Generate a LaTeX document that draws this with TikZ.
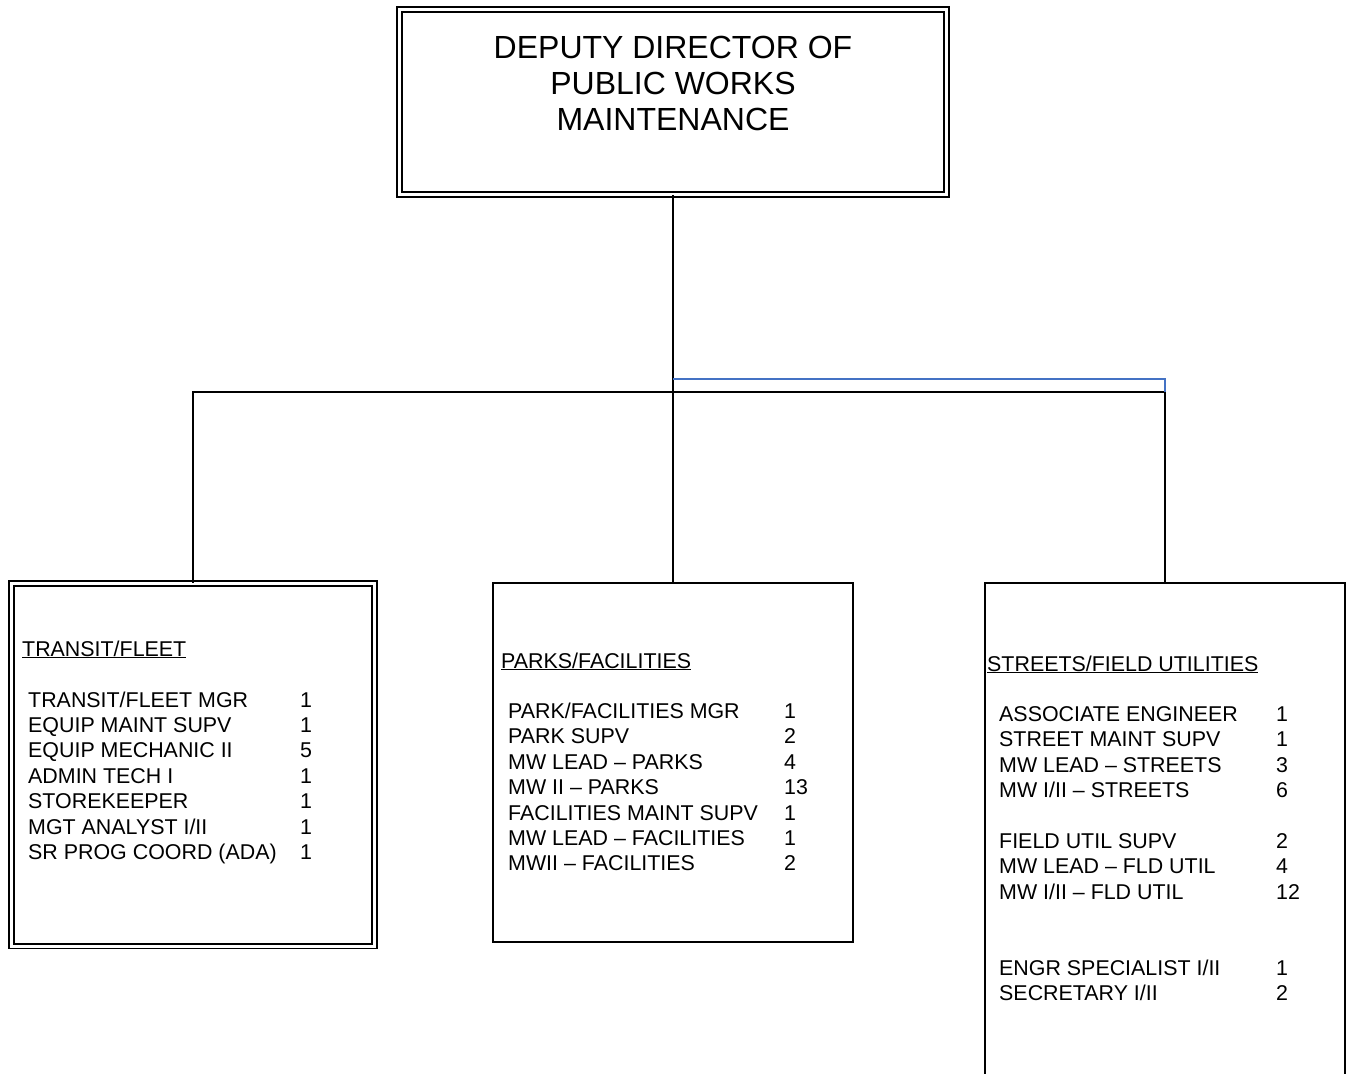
\documentclass[tikz,border=0pt]{standalone}
\usepackage{fontspec}
\setmainfont{Liberation Sans}
\begin{document}
\begin{tikzpicture}[x=1pt,y=-1pt,
  conn/.style={draw=black, line width=1.6pt},
  blueconn/.style={draw={rgb,255:red,68;green,114;blue,196}, line width=1.3pt},
  box/.style={draw=black, line width=1.6pt, inner sep=0pt, fill=white},
  dbox/.style={box, double, double distance=3pt, line width=1.6pt},
  item/.style={anchor=base west, inner sep=0pt, font=\fontsize{21.4}{25}\selectfont},
  head/.style={item},
  title/.style={anchor=base, inner sep=0pt, font=\fontsize{32}{36}\selectfont}]
\useasboundingbox (0,0) rectangle (1351,1073);
\fill[white] (0,0) rectangle (1351,1073);

% boxes
\node[dbox, minimum width=547pt, minimum height=185pt] (top) at (673,102) {};
\node[dbox, minimum width=363pt, minimum height=362.5pt] (lbox) at (193,764.75) {};
\node[box, minimum width=360pt, minimum height=359pt] (mbox) at (673,762.5) {};
\node[box, minimum width=360pt, minimum height=537pt] (rbox) at (1165,851.5) {};

% connectors
\coordinate (hl) at (193,392);
\coordinate (hr) at (1165,392);
\coordinate (bl) at (673,379);
\coordinate (br) at (1165,379);
\draw[conn] (top.south) -- (mbox.north);
\draw[conn] (lbox.north) -- (hl) -- (hr) -- (rbox.north);
\draw[blueconn] (bl) -- (br) -- (hr);

% title
\node[title] (t1) at (673,58.5) {DEPUTY DIRECTOR OF};
\node[title] (t2) at (673,94.5) {PUBLIC WORKS};
\node[title] (t3) at (673,130.5) {MAINTENANCE};

% left box
\node[head] (lh) at (22,656) {\underline{TRANSIT/FLEET}};
\node[item] (l1) at (28,707) {TRANSIT/FLEET MGR};
\node[item] (l2) at (28,732.4) {EQUIP MAINT SUPV};
\node[item] (l3) at (28,757.8) {EQUIP MECHANIC II};
\node[item] (l4) at (28,783.2) {ADMIN TECH I};
\node[item] (l5) at (28,808.6) {STOREKEEPER};
\node[item] (l6) at (28,834) {MGT ANALYST I/II};
\node[item] (l7) at (28,859.4) {SR PROG COORD (ADA)};
\node[item] (ln1) at (300,707) {1};
\node[item] (ln2) at (300,732.4) {1};
\node[item] (ln3) at (300,757.8) {5};
\node[item] (ln4) at (300,783.2) {1};
\node[item] (ln5) at (300,808.6) {1};
\node[item] (ln6) at (300,834) {1};
\node[item] (ln7) at (300,859.4) {1};

% middle box
\node[head] (mh) at (501,668) {\underline{PARKS/FACILITIES}};
\node[item] (m1) at (508,718.5) {PARK/FACILITIES MGR};
\node[item] (m2) at (508,743.9) {PARK SUPV};
\node[item] (m3) at (508,769.3) {MW LEAD – PARKS};
\node[item] (m4) at (508,794.7) {MW II – PARKS};
\node[item] (m5) at (508,820.1) {FACILITIES MAINT SUPV};
\node[item] (m6) at (508,845.5) {MW LEAD – FACILITIES};
\node[item] (m7) at (508,870.9) {MWII – FACILITIES};
\node[item] (mn1) at (784,718.5) {1};
\node[item] (mn2) at (784,743.9) {2};
\node[item] (mn3) at (784,769.3) {4};
\node[item] (mn4) at (784,794.7) {13};
\node[item] (mn5) at (784,820.1) {1};
\node[item] (mn6) at (784,845.5) {1};
\node[item] (mn7) at (784,870.9) {2};

% right box
\node[head] (rh) at (987,671) {\underline{STREETS/FIELD UTILITIES}};
\node[item] (r1) at (999,721.5) {ASSOCIATE ENGINEER};
\node[item] (r2) at (999,746.9) {STREET MAINT SUPV};
\node[item] (r3) at (999,772.3) {MW LEAD – STREETS};
\node[item] (r4) at (999,797.7) {MW I/II – STREETS};
\node[item] (r5) at (999,848.5) {FIELD UTIL SUPV};
\node[item] (r6) at (999,873.9) {MW LEAD – FLD UTIL};
\node[item] (r7) at (999,899.3) {MW I/II – FLD UTIL};
\node[item] (r8) at (999,975.5) {ENGR SPECIALIST I/II};
\node[item] (r9) at (999,1000.9) {SECRETARY I/II};
\node[item] (rn1) at (1276,721.5) {1};
\node[item] (rn2) at (1276,746.9) {1};
\node[item] (rn3) at (1276,772.3) {3};
\node[item] (rn4) at (1276,797.7) {6};
\node[item] (rn5) at (1276,848.5) {2};
\node[item] (rn6) at (1276,873.9) {4};
\node[item] (rn7) at (1276,899.3) {12};
\node[item] (rn8) at (1276,975.5) {1};
\node[item] (rn9) at (1276,1000.9) {2};
\end{tikzpicture}
\end{document}
